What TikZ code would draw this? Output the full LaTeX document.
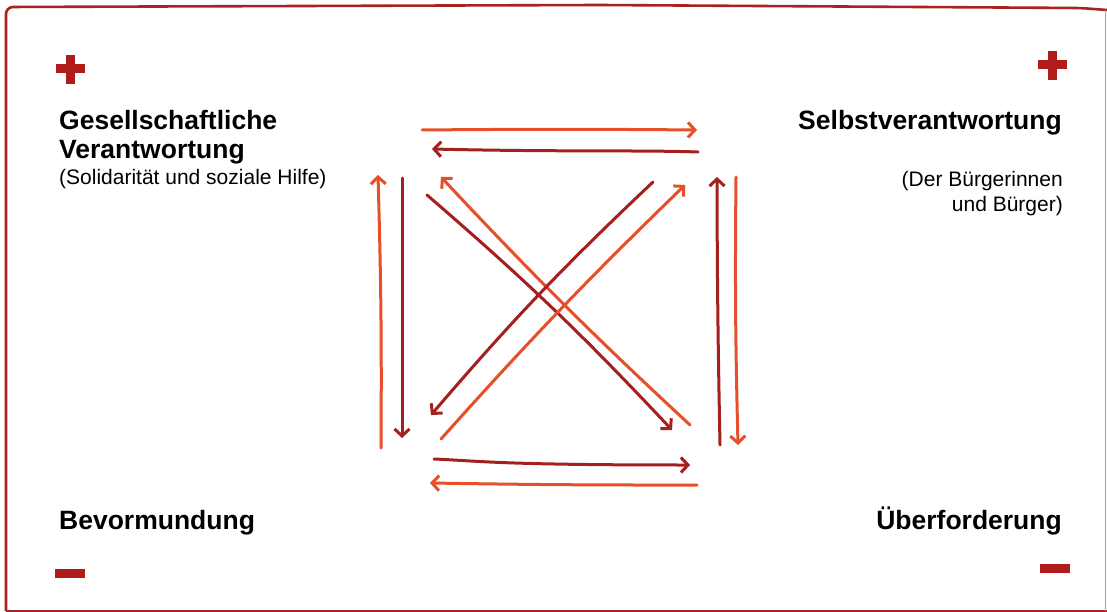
\documentclass[tikz,border=0pt]{standalone}
\usepackage{fontspec}
\setmainfont{Liberation Sans}
\usetikzlibrary{arrows.meta}
\definecolor{frame}{HTML}{A82222}
\definecolor{signred}{HTML}{B01C1C}
\definecolor{orangeA}{HTML}{E5502A}
\definecolor{darkA}{HTML}{A3201E}
\tikzset{
  arr/.style={line width=3pt, line cap=round, -{Straight Barb[length=7pt,width=15pt]}},
  oarr/.style={arr, draw=orangeA},
  darr/.style={arr, draw=darkA},
  title/.style={font=\fontsize{26.5}{30}\selectfont\bfseries, inner sep=0pt, text=black},
  sub/.style={font=\fontsize{21}{25}\selectfont, inner sep=0pt, text=black},
  sign/.style={fill=signred, draw=none}
}
\begin{document}
\begin{tikzpicture}[x=1pt,y=-1pt]
\useasboundingbox (0,0) rectangle (1107,612);
\fill[white] (0,0) rectangle (1107,612);
% frame
\draw[frame, line width=2.6pt, rounded corners=7pt] (6,611) -- (6,7) -- (600,5) -- (1080,8) -- (1107,10);
\draw[frame, line width=2.6pt] (6,611) -- (1107,611);
\draw[frame!50, line width=1pt] (1105,10) -- (1105,611);

% signs
\fill[sign] (55.5,64.5) rectangle (84.5,73.5);
\fill[sign] (65.5,55) rectangle (74.5,84);
\fill[sign] (1038,60.5) rectangle (1067,69.5);
\fill[sign] (1048,51) rectangle (1057,80);
\fill[sign] (55,568.5) rectangle (85,577.5);
\fill[sign] (1040,564) rectangle (1070,572.5);

% texts
\node[title, anchor=base west] (g1) at (59,130) {Gesellschaftliche};
\node[title, anchor=base west] (g2) at (59,159) {Verantwortung};
\node[sub, anchor=base west] (g3) at (59,185) {(Solidarität und soziale Hilfe)};
\node[title, anchor=base east] (s1) at (1062,130) {Selbstverantwortung};
\node[sub, anchor=base east] (s2) at (1063,187) {(Der Bürgerinnen};
\node[sub, anchor=base east] (s3) at (1063,212) {und Bürger)};
\node[title, anchor=base west] (b1) at (59,529) {Bevormundung};
\node[title, anchor=base east] (u1) at (1062,529) {Überforderung};

% arrow endpoints
\coordinate (a1s) at (422,130); \coordinate (a1e) at (697,130);
\coordinate (a2s) at (698,152); \coordinate (a2e) at (432,149);
\coordinate (a3s) at (381,448); \coordinate (a3e) at (378,175);
\coordinate (a4s) at (402,178); \coordinate (a4e) at (402,438);
\coordinate (a5s) at (427,195); \coordinate (a5e) at (672,430);
\coordinate (a6s) at (690,425); \coordinate (a6e) at (441,177);
\coordinate (a7s) at (653,182); \coordinate (a7e) at (431,415);
\coordinate (a8s) at (441,439); \coordinate (a8e) at (685,185);
\coordinate (a9s) at (720,445); \coordinate (a9e) at (717,177);
\coordinate (a10s) at (736,177); \coordinate (a10e) at (738,445);
\coordinate (a11s) at (434,459); \coordinate (a11e) at (690,465);
\coordinate (a12s) at (697,485); \coordinate (a12e) at (430,483);

\draw[oarr] (a1s) to[bend left=0.5] (a1e);
\draw[darr] (a2s) .. controls (640,150) and (560,152) .. (a2e);
\draw[oarr] (a3s) to[bend right=1] (a3e);
\draw[darr] (a4s) -- (a4e);
\draw[darr] (a5s) to[bend left=3] (a5e);
\draw[oarr] (a6s) to[bend left=2] (a6e);
\draw[darr] (a7s) to[bend right=3] (a7e);
\draw[oarr] (a8s) to[bend left=2] (a8e);
\draw[darr] (a9s) to[bend left=0.5] (a9e);
\draw[oarr] (a10s) to[bend right=1] (a10e);
\draw[darr] (a11s) .. controls (480,461) and (500,465) .. (a11e);
\draw[oarr] (a12s) to[bend left=0.5] (a12e);
\end{tikzpicture}
\end{document}
